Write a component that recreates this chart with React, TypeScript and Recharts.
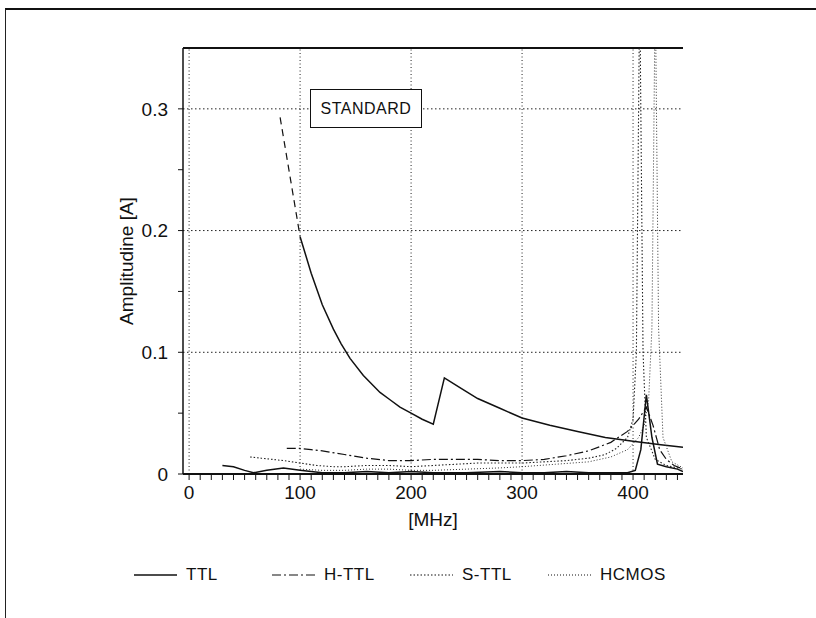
import React from 'react';
import { LineChart, Line, XAxis, YAxis, ReferenceLine, Legend } from 'recharts';

// ---- data (frequency in MHz, amplitude in A) ----
const standardSteepFreq = [82, 100];
const standardSteepAmp = [0.293, 0.195];

const standardFreq = [100, 110, 120, 130, 137, 145, 157, 172, 181, 190, 200, 210, 220, 230, 244, 260, 280, 300, 325, 350, 375, 400, 425, 445];
const standardAmp = [0.195, 0.165, 0.139, 0.119, 0.107, 0.095, 0.081, 0.067, 0.061, 0.055, 0.05, 0.045, 0.041, 0.079, 0.071, 0.062, 0.054, 0.046, 0.04, 0.035, 0.03, 0.027, 0.024, 0.022];

const ttlFreq = [30, 40, 50, 58, 70, 85, 100, 110, 120, 140, 160, 180, 200, 220, 250, 280, 300, 320, 340, 360, 380, 395, 402, 407, 412, 417, 422, 430, 440, 445];
const ttlAmp = [0.007, 0.006, 0.003, 0.001, 0.003, 0.005, 0.003, 0.002, 0.001, 0.001, 0.002, 0.001, 0.002, 0.001, 0.001, 0.002, 0.001, 0.001, 0.002, 0.001, 0.001, 0.001, 0.003, 0.02, 0.065, 0.03, 0.008, 0.006, 0.004, 0.002];

const httlFreq = [88, 100, 110, 120, 140, 160, 180, 200, 220, 240, 260, 280, 300, 320, 340, 360, 380, 395, 405, 412, 418, 424, 430, 437, 445];
const httlAmp = [0.021, 0.021, 0.02, 0.019, 0.016, 0.013, 0.011, 0.011, 0.012, 0.012, 0.012, 0.011, 0.011, 0.012, 0.015, 0.019, 0.026, 0.035, 0.045, 0.055, 0.04, 0.02, 0.012, 0.007, 0.004];

const sttlFreq = [55, 65, 75, 85, 100, 115, 130, 140, 160, 180, 200, 220, 240, 260, 280, 300, 320, 340, 360, 375, 385, 395, 400, 403, 406, 409, 412, 420, 430, 445];
const sttlAmp = [0.014, 0.013, 0.012, 0.011, 0.009, 0.007, 0.006, 0.006, 0.007, 0.007, 0.006, 0.007, 0.008, 0.009, 0.009, 0.009, 0.01, 0.011, 0.013, 0.016, 0.021, 0.03, 0.045, 0.1, 0.4, 0.1, 0.03, 0.012, 0.007, 0.004];

const hcmosFreq = [100, 120, 140, 160, 180, 200, 220, 250, 280, 300, 330, 360, 380, 395, 405, 410, 414, 417, 420, 423, 427, 435, 445];
const hcmosAmp = [0.004, 0.003, 0.003, 0.004, 0.004, 0.003, 0.003, 0.004, 0.005, 0.006, 0.008, 0.01, 0.014, 0.02, 0.03, 0.04, 0.06, 0.12, 0.4, 0.12, 0.03, 0.01, 0.005];

const xTicks = [0, 10, 20, 30, 40, 50, 60, 70, 80, 90, 100, 110, 120, 130, 140, 150, 160, 170, 180, 190, 200, 210, 220, 230, 240, 250, 260, 270, 280, 290, 300, 310, 320, 330, 340, 350, 360, 370, 380, 390, 400, 410, 420, 430, 440];
const xLabelTicks = [0, 100, 200, 300, 400];
const yTicks = [0, 0.05, 0.1, 0.15, 0.2, 0.25, 0.3];
const yLabelTicks = [0, 0.1, 0.2, 0.3];
const gridX = [0, 100, 200, 300, 400];
const gridY = [0.1, 0.2, 0.3];

const seriesNames = ['TTL', 'H-TTL', 'S-TTL', 'HCMOS'];
const seriesDash: Record<string, string | undefined> = {
  TTL: undefined,
  'H-TTL': '9 3 2 3',
  'S-TTL': '1.5 2',
  HCMOS: '1 2',
};

const toPoints = (f: number[], a: number[]) => f.map((x, i) => ({ f: x, a: a[i] }));

const INK = '#111';
const FONT = '"Liberation Sans", Arial, Helvetica, sans-serif';

const LegendContent = () => (
  <div style={{ display: 'flex', fontFamily: FONT, fontSize: 17, color: INK, height: 30, alignItems: 'center' }}>
    {seriesNames.map((n) => (
      <div key={n} style={{ width: 138, display: 'flex', alignItems: 'center' }}>
        <svg width={43} height={10} style={{ display: 'block' }}>
          <line x1={0} y1={5} x2={43} y2={5} stroke={INK} strokeWidth={n === 'TTL' ? 1.6 : 1.1} strokeDasharray={seriesDash[n]} />
        </svg>
        <span style={{ marginLeft: 9, letterSpacing: 0.5 }}>{n}</span>
      </div>
    ))}
  </div>
);

export default function App() {
  return (
    <div style={{ position: 'absolute', left: 0, top: 0, width: 816, height: 618, background: '#fff', fontFamily: FONT }}>
      <div style={{ position: 'absolute', left: 5, top: 8, width: 811, height: 610, borderTop: '2px solid #111', borderLeft: '1.5px solid #222', boxSizing: 'border-box' }} />
      <LineChart width={816} height={618} margin={{ top: 48, right: 133, bottom: 28, left: 103 }}>
        <XAxis
          dataKey="f"
          type="number"
          domain={[-5.5, 445]}
          allowDataOverflow
          ticks={xTicks}
          interval={0}
          tickFormatter={(v: number) => (xLabelTicks.includes(v) ? String(v) : '')}
          tickSize={6}
          tickMargin={6}
          height={86}
          axisLine={{ stroke: INK, strokeWidth: 2.2 }}
          tickLine={{ stroke: INK, strokeWidth: 1 }}
          tick={{ fontSize: 19, fill: INK, fontFamily: FONT }}
          label={(p: any) => {
            const vb = p.viewBox || {};
            return (
              <text x={vb.x + vb.width / 2} y={vb.y + 47} textAnchor="middle" dominantBaseline="middle" fontSize={19} fill={INK} fontFamily={FONT}>
                [MHz]
              </text>
            );
          }}
        />
        <YAxis
          type="number"
          domain={[0, 0.35]}
          allowDataOverflow
          ticks={yTicks}
          interval={0}
          tickFormatter={(v: number) => {
            const m = yLabelTicks.find((t) => Math.abs(t - v) < 1e-9);
            return m === undefined ? '' : String(m);
          }}
          width={80}
          tickSize={5}
          tickMargin={10}
          axisLine={{ stroke: INK, strokeWidth: 1.5 }}
          tickLine={{ stroke: INK, strokeWidth: 1 }}
          tick={{ fontSize: 19, fill: INK, fontFamily: FONT }}
          label={(p: any) => {
            const vb = p.viewBox || {};
            const cx = vb.x + 25;
            const cy = vb.y + vb.height / 2;
            return (
              <text x={cx} y={cy} textAnchor="middle" dominantBaseline="middle" transform={`rotate(-90 ${cx} ${cy})`} fontSize={19} fill={INK} fontFamily={FONT}>
                Amplitudine [A]
              </text>
            );
          }}
        />
        {gridX.map((x) => (
          <ReferenceLine key={'gx' + x} x={x} stroke="#222" strokeWidth={1} strokeDasharray="1 2.5" />
        ))}
        {gridY.map((y) => (
          <ReferenceLine key={'gy' + y} y={y} stroke="#222" strokeWidth={1} strokeDasharray="1.5 2.5" />
        ))}
        <ReferenceLine y={0.35} stroke={INK} strokeWidth={2} />
        <Line data={toPoints(standardSteepFreq, standardSteepAmp)} dataKey="a" name="standard-steep" type="linear" dot={false} stroke={INK} strokeWidth={1.2} strokeDasharray="7 5" legendType="none" isAnimationActive={false} />
        <Line data={toPoints(standardFreq, standardAmp)} dataKey="a" name="standard" type="linear" dot={false} stroke={INK} strokeWidth={1.5} legendType="none" isAnimationActive={false} />
        <Line data={toPoints(hcmosFreq, hcmosAmp)} dataKey="a" name="HCMOS" type="linear" dot={false} stroke="#333" strokeWidth={1} strokeDasharray={seriesDash.HCMOS} isAnimationActive={false} />
        <Line data={toPoints(sttlFreq, sttlAmp)} dataKey="a" name="S-TTL" type="linear" dot={false} stroke="#222" strokeWidth={1.1} strokeDasharray={seriesDash['S-TTL']} isAnimationActive={false} />
        <Line data={toPoints(httlFreq, httlAmp)} dataKey="a" name="H-TTL" type="linear" dot={false} stroke={INK} strokeWidth={1.2} strokeDasharray={seriesDash['H-TTL']} isAnimationActive={false} />
        <Line data={toPoints(ttlFreq, ttlAmp)} dataKey="a" name="TTL" type="linear" dot={false} stroke={INK} strokeWidth={1.5} isAnimationActive={false} />
        <Legend verticalAlign="bottom" align="left" content={<LegendContent />} wrapperStyle={{ left: 134, width: 560 }} />
      </LineChart>
      <div
        style={{
          position: 'absolute',
          left: 310,
          top: 89,
          width: 112,
          height: 39,
          border: '1.5px solid #111',
          background: '#fff',
          boxSizing: 'border-box',
          display: 'flex',
          alignItems: 'center',
          justifyContent: 'center',
          fontSize: 16,
          color: INK,
          letterSpacing: 0.5,
          fontFamily: FONT,
        }}
      >
        STANDARD
      </div>
    </div>
  );
}
